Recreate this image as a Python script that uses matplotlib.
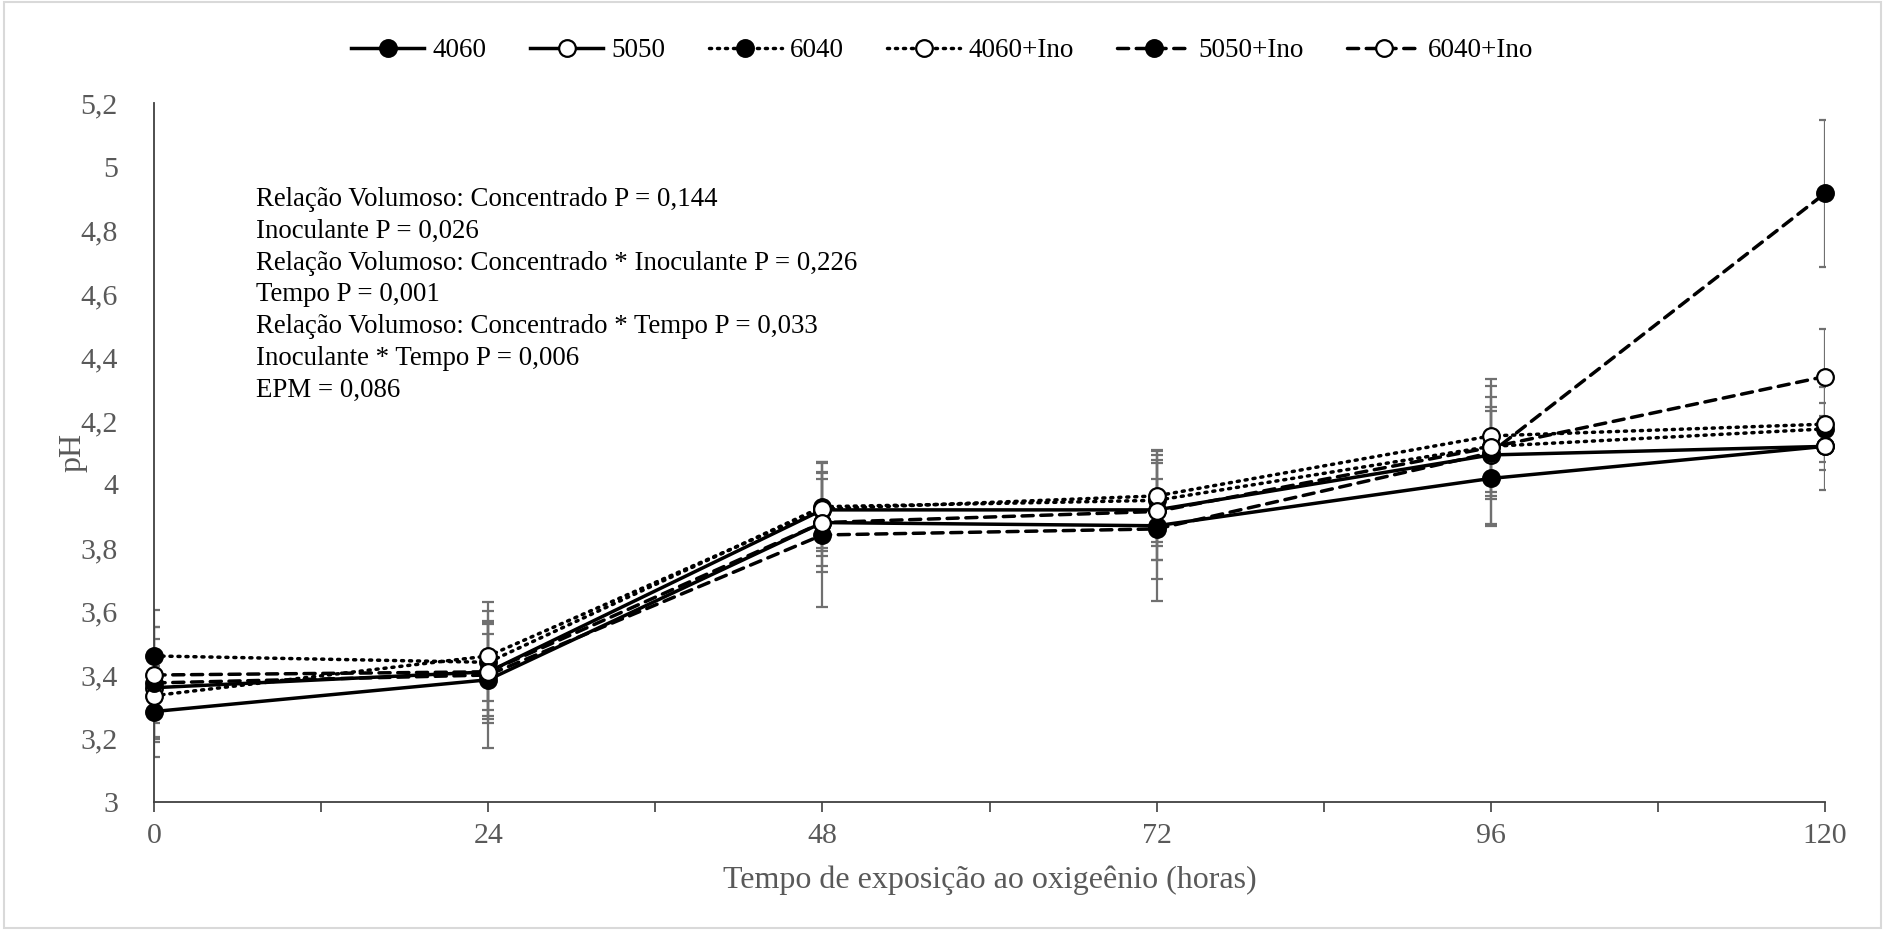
import matplotlib
matplotlib.use("Agg")
import matplotlib.pyplot as plt
from matplotlib.patches import Rectangle
from matplotlib.ticker import FuncFormatter, MultipleLocator

plt.rcParams["font.family"] = ["Liberation Serif", "DejaVu Serif"]

hours = [0, 24, 48, 72, 96, 120]
ph_4060 = [3.285, 3.385, 3.88, 3.87, 4.019, 4.12]
ph_5050 = [3.36, 3.41, 3.92, 3.92, 4.093, 4.12]
ph_6040 = [3.46, 3.44, 3.93, 3.95, 4.12, 4.175]
ph_4060_ino = [3.335, 3.46, 3.923, 3.964, 4.153, 4.19]
ph_5050_ino = [3.375, 3.40, 3.841, 3.86, 4.10, 4.917]
ph_6040_ino = [3.40, 3.41, 3.88, 3.915, 4.117, 4.34]

err_4060 = [0.142, 0.216, 0.137, 0.236, 0.15, 0.137]
err_5050 = [0.154, 0.16, 0.12, 0.158, 0.217, 0.074]
err_6040 = [0.145, 0.123, 0.14, 0.143, 0.155, 0.04]
err_4060_ino = [0.145, 0.171, 0.147, 0.145, 0.178, 0.118]
err_5050_ino = [0.177, 0.13, 0.228, 0.158, 0.145, 0.231]
err_6040_ino = [0.15, 0.15, 0.155, 0.152, 0.115, 0.15]

labels = ["4060", "5050", "6040", "4060+Ino", "5050+Ino", "6040+Ino"]
stats = ["Relação Volumoso: Concentrado P = 0,144",
         "Inoculante P = 0,026",
         "Relação Volumoso: Concentrado * Inoculante P = 0,226",
         "Tempo P = 0,001",
         "Relação Volumoso: Concentrado * Tempo P = 0,033",
         "Inoculante * Tempo P = 0,006",
         "EPM = 0,086"]

series = [ph_4060, ph_5050, ph_6040, ph_4060_ino, ph_5050_ino, ph_6040_ino]
errs = [err_4060, err_5050, err_6040, err_4060_ino, err_5050_ino, err_6040_ino]
styles = ["-", "-", (0, (0.6, 1.7)), (0, (0.6, 1.7)), (0, (3.2, 2.2)), (0, (3.2, 2.2))]
faces = ["black", "white", "black", "white", "black", "white"]

GREY = "#595959"
fig = plt.figure(figsize=(18.85, 9.30), dpi=100)
ax = fig.add_axes([0.0817, 0.1376, 0.8865, 0.7512])

for y, e in zip(series, errs):
    ax.errorbar(hours, y, yerr=e, fmt="none", ecolor="#707070", elinewidth=1.6,
                capsize=4.5, capthick=1.6, zorder=2)
for y, lab, ls, fc in zip(series, labels, styles, faces):
    ax.plot(hours, y, linestyle=ls, color="black", lw=2.5, marker="o", ms=12,
            mfc=fc, mec="black", mew=1.6, dash_capstyle="round", label=lab,
            zorder=3, clip_on=False)

ax.set_xlim(0, 120)
ax.set_ylim(3, 5.2)
ax.xaxis.set_major_locator(MultipleLocator(12))
ax.xaxis.set_major_formatter(FuncFormatter(lambda v, p: f"{v:g}" if v % 24 == 0 else ""))
ax.yaxis.set_major_locator(MultipleLocator(0.2))
ax.yaxis.set_major_formatter(FuncFormatter(lambda v, p: f"{round(v, 1):g}".replace(".", ",")))
ax.tick_params(axis="x", length=7, width=1.2, color="#404040", labelsize=21.5,
               labelcolor=GREY, pad=8)
ax.tick_params(axis="y", length=0, labelsize=21.5, labelcolor=GREY, pad=26)
for s in ["top", "right"]:
    ax.spines[s].set_visible(False)
ax.spines["bottom"].set_color("#404040")
ax.spines["left"].set_color("#404040")
ax.spines["bottom"].set_linewidth(1.3)
ax.spines["left"].set_linewidth(1.3)

ax.set_xlabel("Tempo de exposição ao oxigeênio (horas)", fontsize=23, color=GREY, labelpad=12)
ax.set_ylabel("pH", fontsize=23, color=GREY, labelpad=-5)

ax.text(7.3, 4.937, "\n".join(stats), fontsize=19.4, va="top", ha="left",
        linespacing=1.36, color="black")

fig.legend(loc="upper center", bbox_to_anchor=(0.5, 0.985), ncol=6, frameon=False,
           fontsize=19.5, handlelength=2.7, columnspacing=1.6, handletextpad=0.3)

fig.patches.append(Rectangle((0.002, 0.002), 0.996, 0.996, transform=fig.transFigure,
                             fill=False, edgecolor="#d9d9d9", lw=1.5))

fig.savefig("out.png", dpi=100)
